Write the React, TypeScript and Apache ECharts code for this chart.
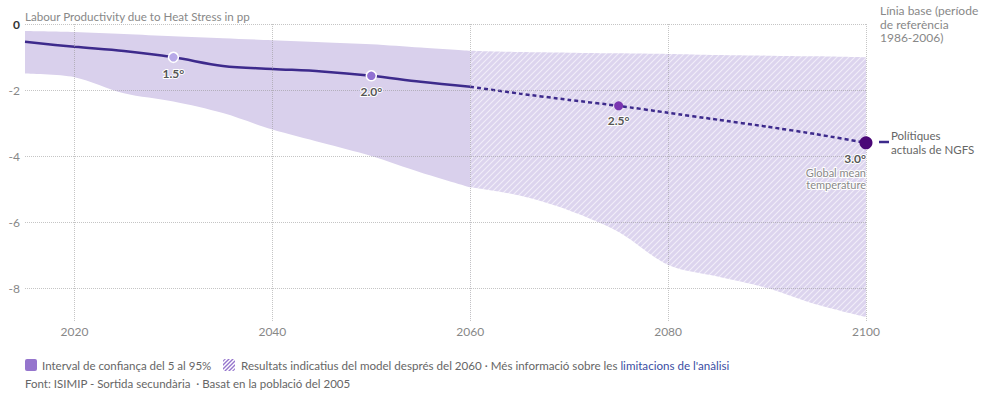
import React, { useEffect, useRef } from "react";
import * as echarts from "echarts";

// ---- data ----
const years = [2015, 2020, 2025, 2030, 2035, 2040, 2045, 2050, 2055, 2060, 2065, 2070, 2075, 2080, 2085, 2090, 2095, 2100];
const central = [-0.54, -0.69, -0.82, -1.01, -1.27, -1.36, -1.44, -1.57, -1.75, -1.9, -2.11, -2.3, -2.48, -2.69, -2.9, -3.11, -3.34, -3.6];
const upper = [-0.21, -0.24, -0.3, -0.37, -0.43, -0.49, -0.55, -0.61, -0.71, -0.81, -0.85, -0.87, -0.89, -0.91, -0.94, -0.96, -0.98, -1.01];
const lower = [-1.5, -1.61, -2.1, -2.35, -2.7, -3.2, -3.6, -4.0, -4.5, -4.95, -5.2, -5.65, -6.3, -7.3, -7.65, -8.0, -8.5, -8.88];
const splitYear = 2060;

const markerYears = [2030, 2050, 2075, 2100];
const markerValues = [-1.01, -1.57, -2.48, -3.6];
const markerLabels = ["1.5°", "2.0°", "2.5°", "3.0°"];
const markerColors = ["#b7a9e8", "#9170d2", "#7a35b0", "#4a0777"];

const xTicks = [2020, 2040, 2060, 2080, 2100];
const yTicks = [0, -2, -4, -6, -8];

const FONT = "Lato";

function makeHatch(bg: string | null, fg: string, size: number, width: number) {
  const c = document.createElement("canvas");
  c.width = size;
  c.height = size;
  const ctx = c.getContext("2d")!;
  if (bg) {
    ctx.fillStyle = bg;
    ctx.fillRect(0, 0, size, size);
  }
  ctx.strokeStyle = fg;
  ctx.lineWidth = width;
  ctx.beginPath();
  ctx.moveTo(0, size);
  ctx.lineTo(size, 0);
  ctx.moveTo(-size / 2, size / 2);
  ctx.lineTo(size / 2, -size / 2);
  ctx.moveTo(size / 2, size * 1.5);
  ctx.lineTo(size * 1.5, size / 2);
  ctx.stroke();
  return c;
}

export default function App() {
  const ref = useRef<HTMLDivElement>(null);
  useEffect(() => {
    if (!ref.current) return;
    const chart = echarts.init(ref.current, null, { renderer: "svg" });

    const solidIdx = years.map((y, i) => i).filter((i) => years[i] <= splitYear);
    const hatchIdx = years.map((y, i) => i).filter((i) => years[i] >= splitYear);

    const hatchCanvas = makeHatch("#dcd4ee", "rgba(255,255,255,0.6)", 6, 1.1);
    const legendHatch = makeHatch("#ffffff", "#9575cd", 4, 1.4);
    const bandPattern: any = { image: hatchCanvas, repeat: "repeat", imageWidth: 6, imageHeight: 6 };
    const legendPattern: any = { image: legendHatch, repeat: "repeat", imageWidth: 4, imageHeight: 4 };

    const invisible = { lineStyle: { opacity: 0, width: 0 }, symbol: "none", silent: true };

    const gridLine = { type: "dotted", color: "rgba(150,150,150,0.55)", width: 1 };

    const areaSeries = (name: string, idx: number[], vals: number[], fill: any, z: number) => ({
      type: "line",
      name,
      smooth: 0.3,
      data: idx.map((i) => [years[i], vals[i]]),
      areaStyle: { color: fill, opacity: 1, origin: "start" },
      ...invisible,
      z,
    });

    const option: any = {
      animation: false,
      textStyle: { fontFamily: FONT },
      grid: { left: 25, right: 124, top: 24, bottom: 77 },
      xAxis: {
        type: "value",
        min: 2015,
        max: 2100,
        axisLine: { show: false },
        axisTick: { show: false },
        splitLine: { show: false },
        axisLabel: {
          customValues: xTicks,
          color: "#888",
          fontSize: 12,
          fontFamily: FONT,
          margin: 4,
          formatter: (v: number) => String(v),
        },
      },
      yAxis: {
        type: "value",
        min: -9,
        max: 0,
        axisLine: { show: false },
        axisTick: { show: false },
        splitLine: { show: false },
        axisLabel: {
          customValues: yTicks,
          color: "#888",
          fontSize: 12,
          fontFamily: FONT,
          margin: 5,
          formatter: (v: number) => (v === 0 ? "{b|0}" : String(v)),
          rich: { b: { fontWeight: "bold", color: "#333", fontSize: 12, fontFamily: FONT } },
        },
      },
      series: [
        areaSeries("upperA", solidIdx, upper, "#d9d0ec", 1),
        areaSeries("upperB", hatchIdx, upper, bandPattern, 1),
        areaSeries("lowerA", solidIdx, lower, "#ffffff", 1.5),
        areaSeries("lowerB", hatchIdx, lower, "#ffffff", 1.5),
        {
          type: "line",
          name: "grid",
          data: [],
          symbol: "none",
          z: 2,
          markLine: {
            silent: true,
            symbol: ["none", "none"],
            label: { show: false },
            lineStyle: gridLine,
            data: [
              ...xTicks.map((x) => ({ xAxis: x })),
              ...yTicks.map((y) => ({ yAxis: y })),
            ],
          },
        },
        {
          type: "line",
          name: "centralSolid",
          smooth: 0.35,
          symbol: "none",
          data: solidIdx.map((i) => [years[i], central[i]]),
          lineStyle: { color: "#3d2a8c", width: 2.5 },
          z: 4,
        },
        {
          type: "line",
          name: "centralDashed",
          smooth: 0.2,
          symbol: "none",
          data: hatchIdx.map((i) => [years[i], central[i]]),
          lineStyle: { color: "#3d2a8c", width: 2.5, type: [4, 3] },
          z: 4,
        },
        {
          type: "scatter",
          name: "markers",
          z: 5,
          data: markerYears.map((y, i) => {
            const last = i === markerYears.length - 1;
            return {
              value: [y, markerValues[i]],
              symbolSize: last ? 13 : i === 2 ? 9 : 10,
              itemStyle: {
                color: markerColors[i],
                borderColor: "#fff",
                borderWidth: i < 2 ? 1.5 : 0,
                opacity: 1,
              },
              label: {
                show: true,
                position: "bottom",
                distance: last ? 3 : 4,
                formatter: markerLabels[i],
                align: last ? "right" : "center",
                fontWeight: "bold",
                fontSize: 12,
                fontFamily: FONT,
                color: "#555",
                textBorderColor: "#fff",
                textBorderWidth: 2,
              },
            };
          }),
        },
      ],
      graphic: [
        {
          type: "text",
          x: 25,
          y: 16,
          style: {
            text: "Labour Productivity due to Heat Stress in pp",
            font: `11.6px ${FONT}`,
            fill: "#888",
            verticalAlign: "middle",
          },
        },
        {
          type: "text",
          x: 880,
          y: 4,
          style: {
            text: "Línia base (període\nde referència\n1986-2006)",
            font: `12px ${FONT}`,
            lineHeight: 13.5,
            fill: "#888",
            verticalAlign: "top",
          },
        },
        {
          type: "line",
          shape: { x1: 879, y1: 142, x2: 889, y2: 142 },
          style: { stroke: "#3d2a8c", lineWidth: 2.5 },
        },
        {
          type: "text",
          x: 891,
          y: 135,
          style: {
            text: "Polítiques",
            font: `11.5px ${FONT}`,
            fill: "#666",
            verticalAlign: "middle",
          },
        },
        {
          type: "text",
          x: 891,
          y: 149,
          style: {
            text: "actuals de NGFS",
            font: `11.5px ${FONT}`,
            fill: "#666",
            verticalAlign: "middle",
          },
        },
        {
          type: "text",
          x: 866,
          y: 178,
          z: 10,
          style: {
            text: "Global mean\ntemperature",
            font: `11px ${FONT}`,
            lineHeight: 12,
            fill: "#888",
            align: "right",
            verticalAlign: "middle",
            stroke: "#fff",
            lineWidth: 2,
          },
        },
        {
          type: "rect",
          shape: { x: 25, y: 359, width: 12, height: 12, r: 2 },
          style: { fill: "#9575cd" },
        },
        {
          type: "text",
          x: 42,
          y: 365,
          style: {
            text: "Interval de confiança del 5 al 95%",
            font: `11.5px ${FONT}`,
            fill: "#666",
            verticalAlign: "middle",
          },
        },
        {
          type: "rect",
          shape: { x: 223, y: 359, width: 12, height: 12, r: 2 },
          style: { fill: legendPattern },
        },
        {
          type: "text",
          x: 241,
          y: 365,
          style: {
            text: "{g|Resultats indicatius del model després del 2060 · Més informació sobre les }{l|limitacions de l'anàlisi}",
            verticalAlign: "middle",
            rich: {
              g: { fontSize: 11.6, fontFamily: FONT, fill: "#666", color: "#666" },
              l: { fontSize: 11.6, fontFamily: FONT, fill: "#3b4ea3", color: "#3b4ea3" },
            },
          },
        },
        {
          type: "text",
          x: 25,
          y: 383,
          style: {
            text: "Font: ISIMIP - Sortida secundària  · Basat en la població del 2005",
            font: `11.5px ${FONT}`,
            fill: "#666",
            verticalAlign: "middle",
          },
        },
      ],
    };

    chart.setOption(option);
    return () => chart.dispose();
  }, []);

  return (
    <div
      ref={ref}
      style={{ position: "fixed", left: 0, top: 0, width: 990, height: 398, background: "#fff" }}
    />
  );
}
